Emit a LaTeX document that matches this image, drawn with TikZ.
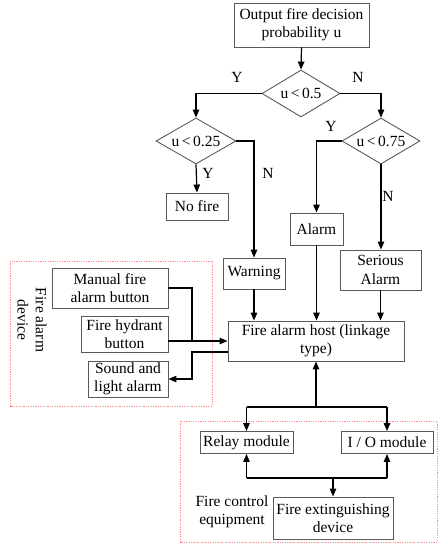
\documentclass[tikz,border=0pt]{standalone}
\usepackage{fontspec}
\setmainfont{Liberation Serif}
\usetikzlibrary{shapes.geometric,arrows.meta,calc}
\begin{document}
\begin{tikzpicture}[x=1pt,y=-1pt,
  font=\fontsize{15.5}{18.3}\selectfont,
  box/.style={draw=black!65,line width=0.9pt,inner sep=0pt,align=center},
  dia/.style={draw=black!65,line width=0.9pt,shape=diamond,inner sep=0pt,aspect=1.66},
  conn/.style={line width=1.2pt,-{Triangle[length=8pt,width=6.5pt]}},
  line/.style={line width=1.2pt},
  grp/.style={draw=red!45,line width=0.6pt,dash pattern=on 1.2pt off 1.2pt},
  lab/.style={inner sep=0pt}]
\useasboundingbox (0,0) rectangle (448,550);
% group frames
\draw[grp] (10,261) rectangle (212,406);
\draw[grp] (180,421) rectangle (437,542);
% nodes
\node[box,minimum width=135pt,minimum height=44pt] (top) at (301.5,25) {Output fire decision\\probability u};
\node[dia,minimum width=78pt,minimum height=47pt] (d1) at (301,93.5) {u\hspace{2.5pt}<\hspace{2.5pt}0.5};
\node[dia,minimum width=80pt,minimum height=46pt] (d2) at (196,141) {u\hspace{2.5pt}<\hspace{2.5pt}0.25};
\node[dia,minimum width=78pt,minimum height=46pt] (d3) at (381,141) {u\hspace{2.5pt}<\hspace{2.5pt}0.75};
\node[box,minimum width=62pt,minimum height=27pt] (nofire) at (197,206.5) {No fire};
\node[box,minimum width=62pt,minimum height=31pt] (warning) at (254,273.5) {Warning};
\node[box,minimum width=53pt,minimum height=32pt] (alarm) at (316.5,229) {Alarm};
\node[box,minimum width=81pt,minimum height=40pt] (serious) at (380.5,270) {Serious\\Alarm};
\node[box,minimum width=176pt,minimum height=40pt] (host) at (316,341) {Fire alarm host (linkage\\type)};
\node[box,minimum width=116pt,minimum height=40pt] (manual) at (110,288) {Manual fire\\alarm button};
\node[box,minimum width=87pt,minimum height=36pt] (hydrant) at (124.5,334) {Fire hydrant\\button};
\node[box,minimum width=80pt,minimum height=36pt] (sound) at (128,379) {Sound and\\light alarm};
\node[box,minimum width=93pt,minimum height=22pt] (relay) at (246.5,442.5) {Relay module};
\node[box,minimum width=92pt,minimum height=22pt] (io) at (387,442.5) {I / O module};
\node[box,minimum width=120pt,minimum height=42pt] (ext) at (333,518) {Fire extinguishing\\device};
\node[lab,align=center] (fce) at (232,512) {Fire control\\equipment};
\node[lab,align=center,rotate=-90] (fad) at (32,320) {Fire alarm\\device};
% labels
\node[lab] (y1) at (237,77) {Y};
\node[lab] (n1) at (358,77) {N};
\node[lab] (y2) at (208,173) {Y};
\node[lab] (n2) at (268,173) {N};
\node[lab] (y3) at (331,126) {Y};
\node[lab] (n3) at (388,196) {N};
% junction coordinates
\coordinate (j) at (192,0);
\coordinate (hostlow) at ($(host.west)+(0,11)$);
\coordinate (bus) at (316,407);
\coordinate (bus2) at (316,478);
% connectors
\draw[conn] (top.south) -- (d1.north);
\draw[conn] (d1.west) -| (d2.north);
\draw[conn] (d1.east) -| (d3.north);
\draw[conn] (d2.south) -- (nofire.north);
\draw[conn] (d2.east) -| (warning.north);
\draw[conn] (d3.west) -| (alarm.north);
\draw[conn] (d3.south) -- (d3.south |- serious.north);
\draw[conn] (warning.south) -- (warning.south |- host.north);
\draw[conn] (alarm.south) -- (alarm.south |- host.north);
\draw[conn] (serious.south) -- (serious.south |- host.north);
\draw[line] (manual.east) -| (j |- host.west);
\draw[conn] (hydrant.east |- host.west) -- (host.west);
\draw[conn] (hostlow) -- (hostlow -| j) |- (sound.east);
\draw[conn] (bus) -- (host.south);
\draw[line] (relay.north |- bus) -- (io.north |- bus);
\draw[conn] (relay.north |- bus) -- (relay.north);
\draw[conn] (io.north |- bus) -- (io.north);
\draw[line] (relay.south |- bus2) -- (io.south |- bus2);
\draw[conn] (relay.south |- bus2) -- (relay.south);
\draw[conn] (io.south |- bus2) -- (io.south);
\draw[conn] (ext.north |- bus2) -- (ext.north);
\end{tikzpicture}
\end{document}
